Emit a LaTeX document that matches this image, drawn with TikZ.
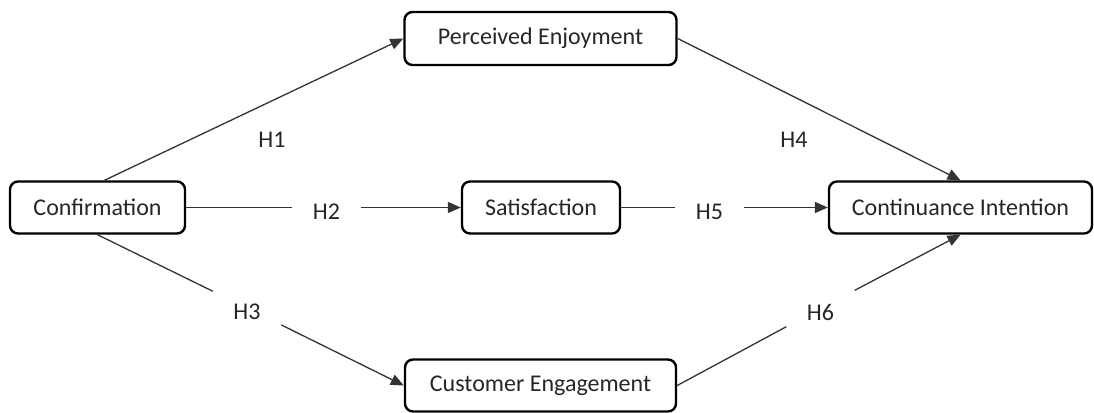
\documentclass[tikz,border=0pt]{standalone}
\usepackage{fontspec}
\setmainfont{Carlito}
\usetikzlibrary{arrows.meta}
\tikzset{>={Triangle[length=13pt,width=11pt]}}
\tikzset{
  constr/.style={draw,line width=2.4pt,rounded corners=8pt,inner sep=0pt,
    minimum height=52pt,font=\fontsize{24}{28}\selectfont,text=black!85},
  hyp/.style={inner sep=0pt,minimum width=68pt,minimum height=40pt,
    text height=24pt,font=\fontsize{24}{28}\selectfont,text=black!85},
  conn/.style={line width=1.3pt,black!80},
  connarr/.style={conn,->},
}

\begin{document}
\begin{tikzpicture}[x=1pt,y=-1pt]
\useasboundingbox (0,0) rectangle (1094,412);
\node[constr,minimum width=175pt] (conf) at (97.5,207.5) {Confirmation};
\node[constr,minimum width=272pt,minimum height=53pt] (enjoy) at (540.5,38.5) {Perceived Enjoyment};
\node[constr,minimum width=158pt] (satis) at (541,207.5) {Satisfaction};
\node[constr,minimum width=263pt] (intent) at (960.5,207.5) {Continuance Intention};
\node[constr,minimum width=271pt] (engage) at (540.5,385.5) {Customer Engagement};
% hypothesis labels
\node[hyp] (h1) at (272,135) {H1};
\node[hyp] (h2) at (326.5,207.5) {H2};
\node[hyp] (h3) at (247,308) {H3};
\node[hyp] (h4) at (794,135) {H4};
\node[hyp] (h5) at (709.5,207.5) {H5};
\node[hyp] (h6) at (820.5,308.3) {H6};
\draw[connarr] ([xshift=7pt]conf.north) -- (enjoy.west);
\draw[conn] (conf) -- (h2);
\draw[connarr] (h2) -- (satis);
\draw[conn] (conf.south) -- (h3);
\draw[connarr] (h3) -- (engage.west);
\draw[connarr] (enjoy.east) -- (intent.north);
\draw[conn] (satis) -- (h5);
\draw[connarr] (h5) -- (intent);
\draw[conn] (engage.east) -- (h6);
\draw[connarr] (h6) -- (intent.south);
\end{tikzpicture}
\end{document}
